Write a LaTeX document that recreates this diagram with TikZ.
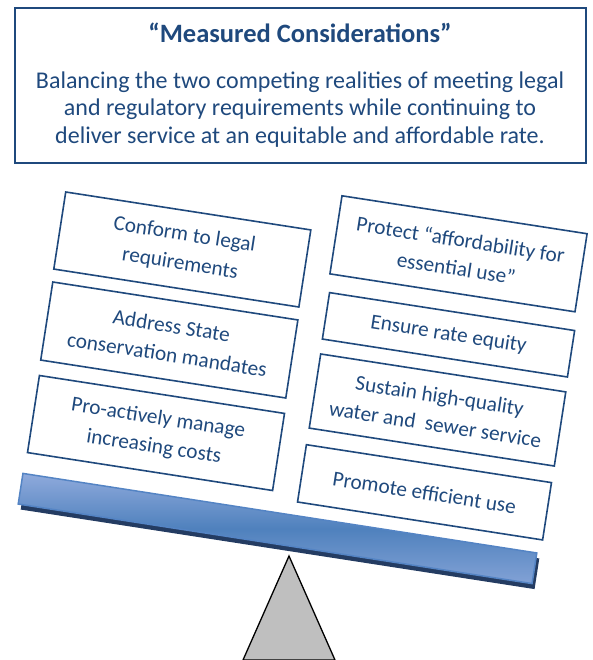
\documentclass[tikz,border=0pt]{standalone}
\usepackage{fontspec}
\setmainfont{Carlito}
\definecolor{inkblue}{RGB}{31,73,125}
\definecolor{beamblue}{RGB}{79,129,189}
\definecolor{beamlight}{RGB}{143,170,220}
\definecolor{beamedge}{RGB}{84,132,196}
\definecolor{beamshadow}{RGB}{36,60,98}
\definecolor{pivotgray}{RGB}{191,191,191}
\begin{document}
\begin{tikzpicture}[x=1pt,y=-1pt,
  headbox/.style={draw=inkblue,line width=2pt,minimum width=571pt,minimum height=155pt,inner sep=0pt},
  headtext/.style={text=inkblue,align=center,inner sep=0pt},
  goalbox/.style={draw=inkblue,line width=1.6pt,fill=white,rotate=-8.8,minimum width=248pt,
    inner sep=0pt,align=center,text=inkblue,font=\fontsize{21.3}{29}\selectfont},
  beam/.style={rotate=-8.8,minimum width=520pt,minimum height=31pt,inner sep=0pt}]
\useasboundingbox (0,0) rectangle (592,660);
% heading
\node[headbox] (head) at (300.5,85.5) {};
\node[headtext,font=\fontsize{26.5}{30}\bfseries] (title) at (300,33) {“Measured Considerations”};
\node[headtext,font=\fontsize{24}{27.5}\selectfont] (intro) at (300,109.5) {Balancing the two competing realities of meeting legal\\
  and regulatory requirements while continuing to\\
  deliver service at an equitable and affordable rate.};
% left column
\node[goalbox,minimum height=78pt] (legal) at (182.3,249.5) {Conform to legal\\requirements};
\node[goalbox,minimum height=79pt] (state) at (169.3,340) {Address State\\conservation mandates};
\node[goalbox,minimum height=78pt] (costs) at (156,433) {Pro-actively manage\\increasing costs};
% right column
\node[goalbox,minimum height=79pt] (afford) at (458.5,253.8) {Protect “affordability for\\essential use”};
\node[goalbox,minimum height=47pt] (equity) at (448.5,334.8) {Ensure rate equity};
\node[goalbox,minimum height=75pt] (quality) at (437.5,410) {Sustain high-quality\\water and~ sewer service};
\node[goalbox,minimum height=58pt] (useful) at (424.5,492.3) {Promote efficient use};
% pivot
\draw[fill=pivotgray,line width=1.3pt,line join=miter] (289,556) -- (243,660) -- (335,660) -- cycle;
% beam
\node[beam,fill=beamshadow] (beamshade) at (280,534) {};
\node[beam,draw=beamedge,line width=1.5pt,top color=beamlight,bottom color=beamlight!80!beamblue,middle color=beamblue] (seesaw) at (277.5,528.5) {};
\end{tikzpicture}
\end{document}
